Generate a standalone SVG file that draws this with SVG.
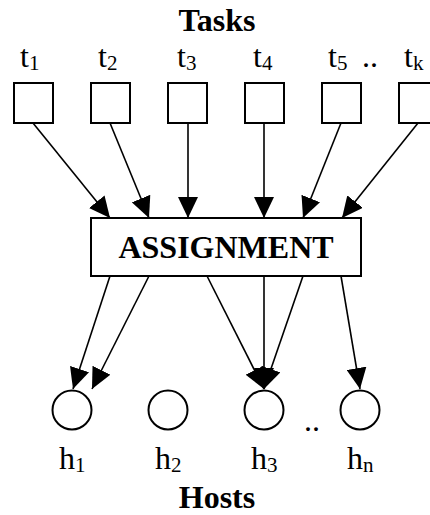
<svg xmlns="http://www.w3.org/2000/svg" width="430" height="515" viewBox="0 0 430 515">
  <style>
    .box { fill: #fff; stroke: #000; stroke-width: 2; }
    .host { fill: #fff; stroke: #000; stroke-width: 2; }
    .edge { fill: none; stroke: #000; stroke-width: 1.6; marker-end: url(#arrow); }
    .title { font-family: "Liberation Serif", "Times New Roman", serif; font-weight: bold; font-size: 32px; fill: #000; }
    .lbl { font-family: "Liberation Serif", "Times New Roman", serif; font-size: 32px; fill: #000; }
    .sub { font-size: 21px; }
  </style>
  <defs>
    <marker id="arrow" markerUnits="userSpaceOnUse" markerWidth="21" markerHeight="20" viewBox="0 0 21 20" refX="21" refY="10" orient="auto">
      <path d="M0,0 L21,10 L0,20 z" fill="#000"/>
    </marker>
  </defs>

  <rect width="430" height="515" fill="#fff"/>

  <text class="title" x="217" y="31" text-anchor="middle">Tasks</text>

  <!-- task nodes -->
  <g id="t1"><rect class="box" x="14" y="83" width="39" height="40"/><text class="lbl" x="20" y="67">t<tspan class="sub" dy="3">1</tspan></text></g>
  <g id="t2"><rect class="box" x="91" y="83" width="39" height="40"/><text class="lbl" x="98" y="67">t<tspan class="sub" dy="3">2</tspan></text></g>
  <g id="t3"><rect class="box" x="168" y="83" width="39" height="40"/><text class="lbl" x="177" y="67">t<tspan class="sub" dy="3">3</tspan></text></g>
  <g id="t4"><rect class="box" x="245" y="83" width="39" height="40"/><text class="lbl" x="253" y="67">t<tspan class="sub" dy="3">4</tspan></text></g>
  <g id="t5"><rect class="box" x="322" y="83" width="39" height="40"/><text class="lbl" x="328" y="67">t<tspan class="sub" dy="3">5</tspan></text></g>
  <text class="lbl" x="362" y="67">..</text>
  <g id="tk"><rect class="box" x="399" y="83" width="39" height="40"/><text class="lbl" x="404" y="67">t<tspan class="sub" dy="3">k</tspan></text></g>

  <!-- assignment node -->
  <g id="assignment">
    <rect class="box" x="91" y="218" width="270" height="58"/>
    <text class="title" x="226" y="258" text-anchor="middle">ASSIGNMENT</text>
  </g>

  <!-- host nodes -->
  <g id="h1"><circle class="host" cx="72" cy="410" r="19.5"/><text class="lbl" x="59" y="469">h<tspan class="sub" dy="3">1</tspan></text></g>
  <g id="h2"><circle class="host" cx="168" cy="410" r="19.5"/><text class="lbl" x="155" y="469">h<tspan class="sub" dy="3">2</tspan></text></g>
  <g id="h3"><circle class="host" cx="264" cy="410" r="19.5"/><text class="lbl" x="251" y="469">h<tspan class="sub" dy="3">3</tspan></text></g>
  <text class="lbl" x="304" y="431">..</text>
  <g id="hn"><circle class="host" cx="360" cy="410" r="19.5"/><text class="lbl" x="347" y="469">h<tspan class="sub" dy="3">n</tspan></text></g>

  <text class="title" x="217" y="508" text-anchor="middle">Hosts</text>

  <!-- connectors -->
  <g id="connectors">
    <line class="edge" x1="33" y1="123" x2="110" y2="218"/>
    <line class="edge" x1="110" y1="123" x2="149" y2="218"/>
    <line class="edge" x1="188" y1="123" x2="188" y2="218"/>
    <line class="edge" x1="264" y1="123" x2="264" y2="218"/>
    <line class="edge" x1="341" y1="123" x2="303" y2="218"/>
    <line class="edge" x1="418" y1="123" x2="342" y2="218"/>

    <line class="edge" x1="110" y1="276" x2="73" y2="389"/>
    <line class="edge" x1="149" y1="276" x2="92" y2="389"/>
    <line class="edge" x1="207" y1="276" x2="264" y2="389"/>
    <line class="edge" x1="264" y1="276" x2="264" y2="389"/>
    <line class="edge" x1="303" y1="276" x2="264" y2="389"/>
    <line class="edge" x1="341" y1="276" x2="360" y2="389"/>
  </g>
</svg>
